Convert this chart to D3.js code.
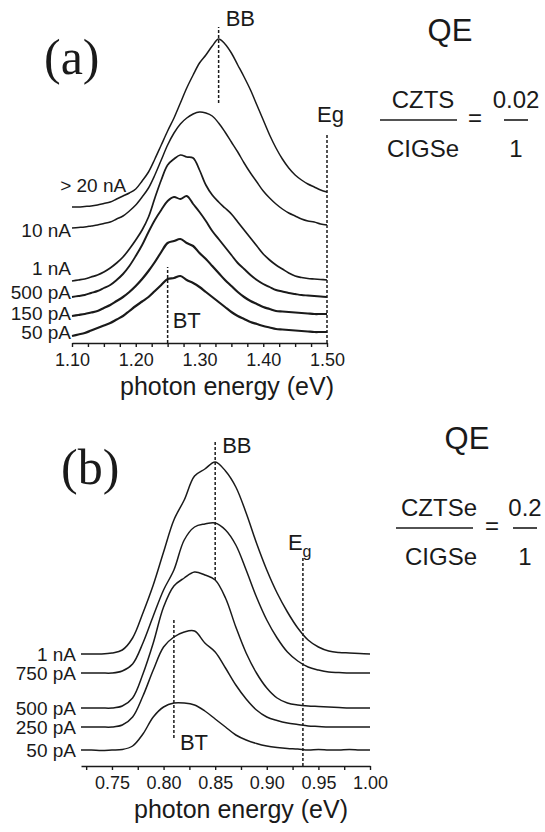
<!DOCTYPE html>
<html>
<head>
<meta charset="utf-8">
<script src="https://cdn.jsdelivr.net/npm/d3@7"></script>
<style>
  body { margin: 0; background: #fff; }
  text { font-family: "Liberation Sans", Arial, sans-serif; fill: #1a1a1a; }
  .trace { fill: none; stroke: #1a1a1a; stroke-linejoin: round; }
  .marker { stroke: #1a1a1a; stroke-width: 1.5; stroke-dasharray: 3 2; }
  .axis path, .axis line { stroke: #1a1a1a; stroke-width: 1.4; }
  .axis text { font-size: 18px; font-family: "Liberation Sans", Arial, sans-serif; }
  .tag { font-family: "Liberation Serif", "Times New Roman", serif; font-size: 50px; }
</style>
</head>
<body>
<div id="chart"></div>
<script>
// ---- panel (a) data: CZTS, intensity offset in a.u. ----
let aEnergy = [1.10, 1.11, 1.12, 1.13, 1.14, 1.15, 1.16, 1.17, 1.18, 1.19,
               1.20, 1.21, 1.22, 1.23, 1.24, 1.25, 1.26, 1.27, 1.28, 1.29,
               1.30, 1.31, 1.32, 1.33, 1.34, 1.35, 1.36, 1.37, 1.38, 1.39,
               1.40, 1.41, 1.42, 1.43, 1.44, 1.45, 1.46, 1.47, 1.48, 1.49, 1.50];
let aNames = ["> 20 nA", "10 nA", "1 nA", "500 pA", "150 pA", "50 pA"];
let aI20nA = [136, 136, 136.5, 137, 138, 139.5, 141, 144, 147, 150, 154,
              162, 171, 184, 198, 212, 225, 240, 255, 268, 280,
              288, 297, 304, 299, 290, 278, 266, 253, 238, 223,
              208, 195, 184, 175, 168, 163, 159, 156, 153, 151];
let aI10nA = [115, 115.5, 116, 117, 118, 119.5, 121, 124, 127, 132, 138,
              146, 155, 168, 183, 198, 210, 219, 225, 229, 231,
              230, 227, 220, 211, 201, 191, 180, 170, 161, 152,
              145, 139, 134, 130, 127, 124, 122, 121, 119, 118];
let aI1nA = [62, 63, 64, 66, 68, 71, 75, 80, 86, 94, 103,
             113, 126, 145, 163, 178, 184, 188, 186, 185, 173,
             158, 148, 141, 135, 129, 121, 113, 105, 97, 89,
             83, 78, 74, 70, 67, 65.5, 64.5, 64, 63.5, 63];
let aI500pA = [46, 47, 48, 50, 52, 55, 58, 63, 69, 77, 87,
               98, 111, 123, 133, 142, 146, 144, 147, 139, 131,
               122, 112, 104, 96, 88, 80, 74, 68, 63, 59,
               56, 53, 51.5, 50, 49, 48, 47.5, 47, 46.5, 46];
let aI150pA = [27, 28, 29, 30.5, 32, 35, 38, 42, 46, 51, 57,
               64, 72, 81, 91, 100, 102, 104, 100, 97, 90,
               84, 77, 70, 63, 57, 51, 46, 42, 39, 36,
               34, 32, 31.5, 31, 30.5, 30, 29.5, 29, 29, 29];
let aI50pA = [7, 8.5, 10, 12.5, 15, 17.5, 20, 23.5, 27, 32, 37,
              41.5, 46, 52, 58, 64, 65, 67, 63, 60, 56,
              51, 46, 41, 36, 31, 27, 24, 21, 19, 17,
              15.5, 14, 13.5, 13, 12.5, 12, 11.5, 11, 11, 11];
let aTicks = [1.10, 1.20, 1.30, 1.40, 1.50];
let aMarkers = ["BB", "Eg", "BT"];
let aMarkerEnergy = [1.33, 1.50, 1.25];

// ---- panel (b) data: CZTSe ----
let bEnergy = [0.72, 0.73, 0.74, 0.75, 0.76, 0.77, 0.78, 0.79, 0.80,
               0.81, 0.82, 0.83, 0.84, 0.85, 0.86, 0.87, 0.88, 0.89, 0.90,
               0.91, 0.92, 0.93, 0.94, 0.95, 0.96, 0.97, 0.98, 0.99, 1.00];
let bNames = ["1 nA", "750 pA", "500 pA", "250 pA", "50 pA"];
let bI1nA = [112, 112, 112, 113, 116, 128, 153, 181, 214,
             246, 266, 290, 297, 304, 295, 279, 253, 223, 196,
             173, 154, 138, 126, 119, 115, 113.5, 113, 112.5, 112];
let bI750pA = [93, 93, 93, 93, 95, 102, 123, 150, 176,
               196, 226, 239, 242, 243, 236, 221, 196, 169, 146,
               128, 114, 105, 99, 96, 94, 93.5, 93, 93, 93];
let bI500pA = [58, 58, 58, 58, 60, 68, 92, 123, 159,
               180, 188, 194, 191, 186, 168, 139, 113, 93, 78,
               68, 63, 61, 60, 59.5, 59, 58.5, 58, 58, 58];
let bI250pA = [39, 39, 39, 39, 41, 49, 70, 96, 119,
               129, 134, 135, 123, 114, 98, 81, 67, 56, 49,
               45.5, 43, 41.5, 40, 39.5, 39, 39, 39, 39, 39];
let bI50pA = [16, 16, 15.5, 16, 16.5, 20, 32, 49, 59,
              63, 63, 61, 55, 47, 39, 31, 26, 22.5, 20,
              18.5, 17.5, 17, 16, 16.5, 16, 16, 16.5, 16, 16];
let bTicks = [0.75, 0.80, 0.85, 0.90, 0.95, 1.00];
let bMarkers = ["BB", "Eg", "BT"];
let bMarkerEnergy = [0.85, 0.935, 0.81];

let svg = d3.select("#chart")
    .append("svg")
    .attr("width", 545)
    .attr("height", 832);

// builds {name, points} rows for one panel
function makeRows(names, energy, columns) {
    return names.map((name, i) => ({
        name: name,
        points: energy.map((e, j) => ({ e: e, v: columns[i][j] }))
    }));
}

let aRows = makeRows(aNames, aEnergy, [aI20nA, aI10nA, aI1nA, aI500pA, aI150pA, aI50pA]);
let bRows = makeRows(bNames, bEnergy, [bI1nA, bI750pA, bI500pA, bI250pA, bI50pA]);

// draws the axis line with minor ticks every 0.025 eV
function drawAxis(g, x, y0, majors, lo, hi) {
    let minors = d3.range(Math.round(lo * 40), Math.round(hi * 40) + 1).map(k => k / 40);
    let isMajor = t => majors.some(m => Math.abs(m - t) < 1e-6);
    let axis = d3.axisBottom(x)
        .tickValues(minors)
        .tickSize(4)
        .tickSizeOuter(0)
        .tickPadding(6)
        .tickFormat(t => isMajor(t) ? d3.format(".2f")(t) : "");
    g.append("g")
        .attr("class", "axis")
        .attr("transform", `translate(0, ${y0})`)
        .call(axis);
}

function drawTraces(g, rows, x, y, widths) {
    let line = d3.line()
        .curve(d3.curveCatmullRom.alpha(0.5))
        .x(d => x(d.e))
        .y(d => y(d.v));
    g.selectAll("path.trace")
        .data(rows)
        .join("path")
        .attr("class", "trace")
        .attr("stroke-width", (d, i) => widths[i])
        .attr("d", d => line(d.points));
}

function addText(g, str, xPos, yPos, size, anchor) {
    return g.append("text")
        .attr("x", xPos)
        .attr("y", yPos)
        .attr("font-size", size)
        .attr("text-anchor", anchor || "start")
        .text(str);
}

// QE ratio block on the right hand side
function drawRatio(g, cx, top, num, val, numX, barX0, barX1, valX, eqX, den, denX) {
    addText(g, "QE", cx, top, 31, "middle");
    addText(g, num, numX, top + 67, 24, "middle");
    addText(g, val, valX, top + 67, 24, "middle");
    g.append("line").attr("x1", barX0).attr("x2", barX1)
        .attr("y1", top + 79).attr("y2", top + 79)
        .attr("stroke", "#1a1a1a").attr("stroke-width", 1.6);
    g.append("line").attr("x1", valX - 12).attr("x2", valX + 12)
        .attr("y1", top + 79).attr("y2", top + 79)
        .attr("stroke", "#1a1a1a").attr("stroke-width", 1.6);
    addText(g, "=", eqX, top + 85, 24, "middle");
    addText(g, den, denX, top + 116, 24, "middle");
    addText(g, "1", valX, top + 116, 24, "middle");
}

// ================= panel (a) =================
let ga = svg.append("g");
let xa = d3.scaleLinear().domain([1.10, 1.50]).range([72, 327]);
let ya = d3.scaleLinear().domain([0, 320]).range([343, 23]);

drawAxis(ga, xa, 343, aTicks, 1.10, 1.50);
drawTraces(ga, aRows, xa, ya, [1.5, 1.5, 1.7, 1.9, 2.2, 2.2]);

// current labels
let aLabelShift = [-22, 2, -13, -5, -3, -4];
ga.selectAll("text.curlab")
    .data(aRows)
    .join("text")
    .attr("class", "curlab")
    .attr("font-size", 19)
    .attr("text-anchor", "end")
    .attr("dy", "0.35em")
    .attr("x", (d, i) => i === 0 ? xa(1.185) : xa(1.10) - 1)
    .attr("y", (d, i) => ya(d.points[0].v) + aLabelShift[i])
    .text(d => d.name);

// dashed markers BB / Eg / BT
let aSpan = [[240, 316], [0, 210], [0, 76]];
aMarkers.forEach((m, i) => {
    ga.append("line")
        .attr("class", "marker")
        .attr("x1", xa(aMarkerEnergy[i])).attr("x2", xa(aMarkerEnergy[i]))
        .attr("y1", ya(aSpan[i][0])).attr("y2", ya(aSpan[i][1]));
});
addText(ga, "BB", xa(aMarkerEnergy[0]) + 7, 26, 22);
addText(ga, "Eg", xa(aMarkerEnergy[1]) - 10, 122, 22);
addText(ga, "BT", xa(aMarkerEnergy[2]) + 5, 328, 22);

addText(ga, "photon energy (eV)", 227, 395, 25, "middle");
ga.append("text").attr("class", "tag").attr("x", 44).attr("y", 74).text("(a)");
drawRatio(ga, 450, 41, "CZTS", "0.02", 423, 380, 457, 516, 475, "CIGSe", 423);

// ================= panel (b) =================
let gb = svg.append("g");
let xb = d3.scaleLinear().domain([0.72, 1.00]).range([81, 370]);
let yb = d3.scaleLinear().domain([0, 320]).range([766, 446]);

drawAxis(gb, xb, 766, bTicks, 0.725, 1.00);
drawTraces(gb, bRows, xb, yb, [1.5, 1.5, 1.5, 1.5, 1.5]);

gb.selectAll("text.curlab")
    .data(bRows)
    .join("text")
    .attr("class", "curlab")
    .attr("font-size", 19)
    .attr("text-anchor", "end")
    .attr("dy", "0.35em")
    .attr("x", xb(0.72) - 5)
    .attr("y", d => yb(d.points[0].v))
    .text(d => d.name);

let bSpan = [[186, 326], [0, 208], [28, 146]];
bMarkers.forEach((m, i) => {
    gb.append("line")
        .attr("class", "marker")
        .attr("x1", xb(bMarkerEnergy[i])).attr("x2", xb(bMarkerEnergy[i]))
        .attr("y1", yb(bSpan[i][0])).attr("y2", yb(bSpan[i][1]));
});
addText(gb, "BB", xb(bMarkerEnergy[0]) + 7, 453, 22);
let eg = addText(gb, "E", xb(bMarkerEnergy[1]) - 15, 550, 22);
eg.append("tspan").attr("font-size", 16).attr("dy", 7).text("g");
addText(gb, "BT", xb(bMarkerEnergy[2]) + 6, 750, 22);

addText(gb, "photon energy (eV)", 241, 818, 25, "middle");
gb.append("text").attr("class", "tag").attr("x", 61).attr("y", 484).text("(b)");
drawRatio(gb, 467, 449, "CZTSe", "0.2", 439, 396, 473, 525, 492, "CIGSe", 441);
</script>
</body>
</html>
